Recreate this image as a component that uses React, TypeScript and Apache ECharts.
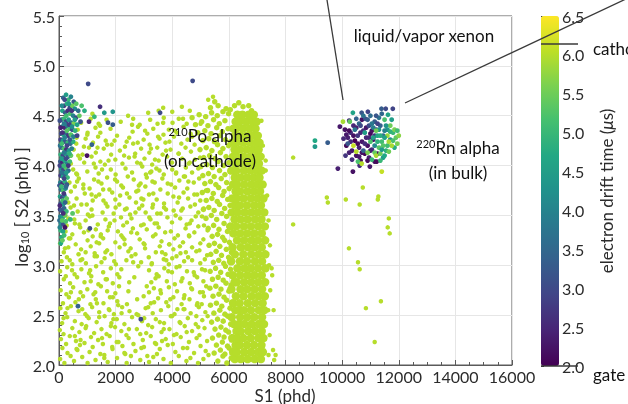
import React, { useEffect, useRef } from "react";
import * as echarts from "echarts";

// Axis ranges: [min, max, step]
const S1_AXIS = [0, 16000, 2000];
const LOG_S2_AXIS = [2.0, 5.5, 0.5];
const DRIFT_AXIS = [2.0, 6.5, 0.5];

// Drift times of the electrode references (µs)
const CATHODE_DRIFT = 6.14;
const GATE_DRIFT = 2.0;
// 210Po events sit on the cathode
const PO_DRIFT = 6.0;

// viridis
const VIRIDIS = [
  "#440154", "#482475", "#414487", "#355f8d", "#2a788e", "#21918c",
  "#22a884", "#44bf70", "#7ad151", "#bddf26", "#fde725",
];

// 210Po alpha, sparse tail at low S1: [S1, log10 S2]
const PO_SPARSE: [number, number][] = [
  [40,2.06],[190,2.02],[410,2.09],[530,2.04],[820,2.08],[1010,2.02],[1290,2.05],[1600,2.1],[1720,2.03],[2050,2.07],[2390,2.02],[2540,2.09],[2870,2.05],[3180,2.03],[3330,2.08],[3690,2.06],[3950,2.02],[4230,2.09],[4500,2.04],[4640,2.07],[4910,2.02],[5100,2.06],[5280,2.1],
  [120,2.17],[300,2.12],[650,2.15],[740,2.2],[1080,2.13],[1190,2.18],[1460,2.11],[1890,2.16],[2240,2.19],[2310,2.12],[2700,2.14],[3000,2.18],[3460,2.11],[3560,2.16],[3840,2.2],[4110,2.13],[4380,2.17],[4770,2.12],[5000,2.19],[5180,2.14],
  [70,2.26],[250,2.21],[380,2.29],[600,2.24],[900,2.22],[1130,2.28],[1380,2.25],[1550,2.21],[1790,2.29],[2100,2.23],[2460,2.27],[2630,2.21],[2960,2.25],[3240,2.29],[3390,2.22],[3770,2.26],[4020,2.21],[4300,2.28],[4590,2.23],[4860,2.27],[5230,2.24],
  [30,2.35],[160,2.31],[470,2.37],[720,2.33],[960,2.39],[1240,2.32],[1500,2.36],[1680,2.31],[1980,2.38],[2200,2.34],[2380,2.3],[2750,2.36],[3080,2.32],[3290,2.38],[3620,2.33],[3900,2.36],[4150,2.31],[4440,2.39],[4700,2.34],[4960,2.3],[5140,2.37],
  [110,2.42],[290,2.48],[560,2.44],[800,2.41],[1050,2.47],[1330,2.43],[1610,2.49],[1850,2.42],[2040,2.46],[2310,2.41],[2580,2.48],[2930,2.44],[3150,2.4],[3420,2.46],[3710,2.42],[3990,2.49],[4260,2.43],[4550,2.47],[4830,2.41],[5060,2.45],[5250,2.49],
  [50,2.57],[230,2.52],[420,2.59],[690,2.54],[930,2.51],[1170,2.58],[1420,2.53],[1760,2.56],[1940,2.51],[2230,2.58],[2490,2.54],[2800,2.5],[3060,2.57],[3310,2.52],[3600,2.55],[3860,2.59],[4080,2.51],[4400,2.56],[4650,2.52],[4940,2.58],[5170,2.53],
  [140,2.62],[350,2.68],[580,2.63],[850,2.69],[1110,2.61],[1300,2.66],[1570,2.62],[1800,2.68],[2060,2.64],[2400,2.61],[2990,2.69],[3240,2.62],[3500,2.67],[3790,2.63],[4040,2.68],[4330,2.61],[4610,2.66],[4890,2.62],[5120,2.69],
  [60,2.75],[260,2.71],[500,2.78],[760,2.73],[1000,2.76],[1220,2.71],[1480,2.79],[1700,2.74],[1990,2.72],[2450,2.74],[3100,2.79],[3350,2.77],[3600,2.72],[3880,2.78],[4170,2.74],[4430,2.7],[4700,2.76],[4980,2.73],[5200,2.79],
  [170,2.86],[390,2.82],[640,2.88],[900,2.83],[1140,2.89],[1390,2.81],[1650,2.86],[1900,2.82],[2130,2.88],[3260,2.83],[3520,2.89],[3810,2.84],[4090,2.81],[4360,2.87],[4620,2.82],[4880,2.88],[5100,2.84],
  [40,2.94],[290,2.98],[550,2.91],[790,2.96],[1060,2.92],[1310,2.99],[1560,2.93],[1830,2.97],[2060,2.91],[2800,2.99],[3180,2.95],[3450,2.91],[3720,2.97],[3990,2.93],[4260,2.99],[4520,2.94],[4790,2.9],[5050,2.96],
  [90,3.04],[280,3.08],[470,3.01],[820,3.06],[950,3.02],[1340,3.09],[1500,3.03],[1610,3.07],[2010,3.01],[2380,3.05],[2560,3.09],[2900,3.03],[3170,3.08],[3280,3.02],[3700,3.06],[3880,3.01],[4150,3.09],[4420,3.04],[4560,3.08],[4990,3.02],[5150,3.06],
  [170,3.13],[330,3.18],[690,3.11],[780,3.16],[1120,3.19],[1260,3.12],[1700,3.15],[1850,3.11],[2140,3.18],[2450,3.14],[2700,3.11],[3040,3.17],[3420,3.13],[3560,3.19],[3760,3.11],[4040,3.16],[4290,3.12],[4700,3.18],[4850,3.14],[5230,3.1],
  [40,3.22],[400,3.27],[590,3.21],[1010,3.25],[1190,3.29],[1420,3.22],[1560,3.27],[1990,3.23],[2250,3.28],[2320,3.21],[2850,3.26],[2990,3.22],[3320,3.29],[3620,3.24],[3900,3.21],[4080,3.27],[4380,3.23],[4600,3.29],[4990,3.22],[5100,3.26],
  [230,3.34],[470,3.31],[750,3.38],[880,3.33],[1300,3.36],[1480,3.31],[1760,3.39],[2080,3.34],[2200,3.3],[2610,3.37],[2760,3.32],[3100,3.36],[3410,3.31],[3520,3.38],[3950,3.34],[4200,3.3],[4470,3.37],[4780,3.33],[4920,3.39],[5250,3.35],
  [330,3.47],[560,3.42],[940,3.45],[1090,3.49],[1370,3.41],[1640,3.46],[1800,3.42],[2190,3.48],[2400,3.43],[2560,3.47],[2990,3.41],[3230,3.46],[3380,3.42],[3830,3.48],[3990,3.43],[4280,3.47],[4510,3.41],[4680,3.45],[5050,3.49],
  [210,3.52],[410,3.58],[660,3.54],[1020,3.51],[1150,3.56],[1540,3.53],[1710,3.59],[1930,3.52],[2330,3.56],[2510,3.51],[2830,3.57],[3060,3.53],[3300,3.58],[3590,3.52],[3780,3.56],[4120,3.5],[4320,3.55],[4640,3.59],[4920,3.53],[5110,3.57],
  [330,3.63],[620,3.67],[790,3.61],[1190,3.65],[1300,3.69],[1650,3.62],[1990,3.66],[2130,3.61],[2490,3.68],[2720,3.63],[2910,3.67],[3320,3.61],[3450,3.66],[3710,3.62],[4040,3.69],[4190,3.63],[4560,3.67],[4800,3.61],[4990,3.65],
  [420,3.74],[560,3.79],[910,3.72],[1080,3.77],[1420,3.71],[1560,3.76],[1880,3.73],[2260,3.78],[2400,3.72],[2800,3.75],[3050,3.79],[3180,3.71],[3580,3.76],[3840,3.72],[4100,3.78],[4400,3.73],[4530,3.77],[4880,3.71],
  [370,3.83],[700,3.87],[860,3.81],[1240,3.86],[1500,3.82],[1700,3.88],[2050,3.84],[2200,3.8],[2640,3.86],[2880,3.82],[3100,3.88],[3380,3.83],[3650,3.87],[3960,3.81],[4250,3.85],[4410,3.89],[4760,3.83],[4950,3.87],
  [500,3.96],[640,3.91],[1000,3.94],[1290,3.98],[1400,3.92],[1830,3.96],[2000,3.91],[2350,3.97],[2580,3.93],[2940,3.99],[3220,3.93],[3440,3.97],[3700,3.91],[4000,3.96],[4130,3.92],[4480,3.98],[4700,3.93],[4920,3.97],
  [420,4.02],[740,4.07],[890,4.03],[1150,4.09],[1460,4.04],[1620,4.01],[1990,4.06],[2240,4.02],[2470,4.08],[2760,4.03],[3020,4.07],[3290,4.01],[3520,4.05],[3820,4.09],[3990,4.03],[4350,4.07],[4580,4.02],[4800,4.06],
  [520,4.16],[830,4.11],[1060,4.18],[1300,4.13],[1580,4.17],[1840,4.11],[2150,4.15],[2330,4.19],[2690,4.12],[2900,4.17],[3190,4.13],[3470,4.18],[3660,4.11],[3940,4.16],[4220,4.12],[4470,4.18],[4660,4.14],
  [610,4.22],[940,4.27],[1200,4.23],[1380,4.29],[1700,4.21],[1960,4.25],[2480,4.28],[2620,4.22],[2990,4.26],[3200,4.21],[3550,4.27],[3760,4.23],[4060,4.29],[4320,4.22],[4540,4.26],[4790,4.21],
  [660,4.36],[1000,4.31],[1290,4.38],[1460,4.33],[1820,4.37],[2600,4.34],[2790,4.39],[3120,4.32],[3330,4.37],[3690,4.31],[3880,4.36],[4160,4.33],[4400,4.39],[4650,4.32],
  [780,4.43],[1120,4.47],[1400,4.42],[1680,4.46],[2850,4.41],[3220,4.46],[3480,4.42],[3700,4.48],[4010,4.43],[4230,4.47],[4510,4.42],
  [1180,4.52],[2440,4.5],[3150,4.53],[3520,4.55],[3680,4.58],[4000,4.54],[4340,4.59],[4620,4.55],[5270,4.66],[5440,4.69],
];

// 210Po alpha, further low-S1 events filling the tail: [S1, log10 S2]
const PO_SPARSE_MORE: [number, number][] = [
  [2870,2.31],[610,3.92],[4410,2.67],[1750,4.05],[3330,3.72],[240,2.89],[4980,4.08],[1520,2.27],[3790,3.05],[980,3.61],
  [2210,2.52],[4620,3.42],[350,3.27],[2670,4.09],[1280,2.73],[4090,4.35],[3560,2.43],[760,3.05],[1960,3.45],[5040,2.61],
  [2430,3.89],[160,2.47],[3120,2.09],[4270,3.19],[1390,3.84],[2760,2.66],[620,2.16],[3900,4.24],[1830,2.39],[4760,2.93],
  [2050,4.3],[3410,2.87],[880,4.19],[4530,2.17],[2550,3.33],[1100,2.95],[3680,4.43],[420,2.73],[2980,3.66],[4180,2.56],
  [1640,3.13],[5190,3.75],[2340,2.11],[3250,4.17],[720,3.41],[4450,3.89],[1900,2.68],[3010,2.47],[1180,3.5],[4850,2.49],
  [2620,3.03],[530,3.6],[3860,2.94],[1450,4.4],[4320,2.84],[2160,3.7],[3460,3.42],[820,2.56],[4700,4.29],[2780,4.23],
  [1330,3.23],[3640,2.24],[210,3.17],[4050,3.55],[1690,2.86],[2300,4.1],[3070,3.91],[940,2.37],[4590,3.3],[2480,2.83],
  [3750,3.33],[1570,3.65],[5120,3.4],[2700,3.53],[460,2.95],[3270,3.01],[1860,4.21],[4380,4.47],[1040,3.35],[2910,2.17],
  [3550,3.95],[620,4.28],[4960,3.15],[2090,2.6],[3930,2.66],[1230,4.02],[2390,3.57],[4140,3.93],[760,2.25],[3190,3.48],
  [1720,3.35],[4510,2.33],[2580,4.41],[3360,2.63],[1950,3.04],[4780,3.71],[300,2.57],[2820,3.8],[1420,2.48],[3710,3.58],
  [5000,4.42],[2200,2.96],[860,3.77],[4230,4.12],[3040,4.35],[1600,2.07],[3890,3.21],[2470,2.36],[680,4.1],[4670,2.77],
  [1980,3.86],[3500,4.29],[1150,3.71],[2740,2.51],[4370,3.57],[3180,2.73],[540,3.46],[2040,2.23],[4920,2.38],[1520,3.96],
  [3640,3.13],[2310,3.26],[4060,2.3],[1010,4.33],[2880,4.02],[3430,2.21],[1780,2.55],[4620,4.03],[2660,2.88],[380,3.05],
  [3950,2.49],[1260,3.09],[2180,4.44],[4480,3.13],[3300,3.84],[1880,2.18],[3020,3.21],[700,2.66],[4830,3.49],[2530,3.17],
  [3780,4.15],[1340,2.62],[4150,2.98],[2000,3.58],[5080,2.73],[2900,3.4],[940,3.13],[3580,2.75],[1650,4.25],[4290,2.42],
  [2390,4.24],[3840,3.82],[560,2.29],[4700,3.05],[2730,3.74],[1120,2.84],[3390,4.06],[2120,2.79],[4570,3.84],[1470,3.29],
  [3150,2.58],[270,3.4],[4000,3.07],[2620,4.47],[1780,3.76],[4870,2.6],[3470,3.52],[990,2.49],[2270,3.4],[4240,3.68],
  [1360,4.18],[3700,2.36],[2940,3.6],[640,3.84],[4430,2.56],[1920,2.46],[3260,3.94],[5160,2.95],
];

// 210Po alpha, shoulder of the main population: [S1, log10 S2]
const PO_SHOULDER: [number, number][] = [
  [5610,2.04],[5790,2.09],[5930,2.02],[6080,2.07],[5480,2.12],[5700,2.15],[5860,2.11],[6010,2.17],[5560,2.2],[5770,2.23],
  [5950,2.19],[6100,2.25],[5420,2.27],[5640,2.3],[5830,2.28],[5990,2.33],[5510,2.36],[5720,2.38],[5890,2.35],[6060,2.41],
  [5390,2.43],[5600,2.46],[5800,2.44],[5960,2.49],[5470,2.52],[5680,2.55],[5860,2.51],[6040,2.57],[5350,2.6],[5560,2.62],
  [5750,2.59],[5920,2.65],[6110,2.63],[5440,2.69],[5650,2.71],[5830,2.68],[6000,2.74],[5330,2.77],[5540,2.79],[5720,2.76],
  [5900,2.82],[6080,2.8],[5420,2.86],[5620,2.88],[5800,2.85],[5970,2.91],[5340,2.94],[5530,2.97],[5710,2.93],[5880,2.99],
  [6060,2.96],[5450,3.03],[5640,3.05],[5820,3.02],[5990,3.08],[5360,3.11],[5550,3.14],[5740,3.1],[5910,3.16],[6090,3.13],
  [5300,3.2],[5490,3.22],[5680,3.19],[5850,3.25],[6020,3.23],[5410,3.29],[5600,3.31],[5780,3.28],[5950,3.34],[5270,3.37],
  [5460,3.4],[5650,3.36],[5830,3.42],[6000,3.39],
  [5190,3.47],[5380,3.5],[5570,3.46],[5750,3.52],[5920,3.49],[5100,3.56],[5290,3.58],[5480,3.55],[5670,3.61],[5850,3.57],
  [6040,3.6],[5200,3.65],[5400,3.67],[5590,3.64],[5780,3.7],[5960,3.66],[5060,3.73],[5250,3.75],[5450,3.72],[5640,3.78],
  [5830,3.74],[6010,3.77],[5150,3.82],[5350,3.84],[5540,3.81],[5730,3.87],[5920,3.83],[5080,3.9],[5280,3.92],[5480,3.89],
  [5670,3.95],[5860,3.91],[6040,3.94],[5010,3.99],[5220,4.01],[5420,3.98],[5620,4.04],[5810,4.0],[6000,4.03],[5110,4.08],
  [5320,4.1],[5510,4.07],[5700,4.13],[5900,4.09],[4980,4.16],[5200,4.18],[5400,4.15],[5600,4.21],[5790,4.17],[5990,4.2],
  [5080,4.25],[5290,4.27],[5490,4.24],[5680,4.3],[5880,4.26],[4900,4.33],[5150,4.35],[5370,4.32],[5570,4.38],[5770,4.34],
  [5970,4.37],[4820,4.41],[5040,4.44],[5260,4.4],[5460,4.46],[5660,4.42],[5860,4.45],[4700,4.48],[4950,4.51],[5180,4.49],
  [5390,4.53],[5590,4.5],[5790,4.54],[5990,4.52],[5350,4.58],[5620,4.6],[5900,4.57],[6200,4.6],[6500,4.59],[5500,4.64],
  [6350,4.63],[6700,4.6],[6050,4.56],[6800,4.55],
];

// 210Po alpha, saturated core: [log10 S2, S1 values]
const PO_CORE_ROWS: [number, number[]][] = [
  [2.06,[6210,6420,6660,6910,7130]],
  [2.13,[6150,6280,6540,6790,7040,7200]],
  [2.20,[6240,6390,6640,6890,7150]],
  [2.27,[6120,6300,6510,6770,7040,7220]],
  [2.34,[6270,6410,6680,6920,7160]],
  [2.41,[6180,6350,6550,6800,7050,7240]],
  [2.48,[6100,6400,6650,6900,7170]],
  [2.55,[6230,6380,6530,6780,7060,7250]],
  [2.62,[6150,6380,6670,6930,7190]],
  [2.69,[6250,6520,6800,7050,7270]],
  [2.76,[6090,6410,6650,6910,7170]],
  [2.83,[6200,6280,6540,6790,7040,7280]],
  [2.90,[6140,6400,6660,6900,7160]],
  [2.97,[6300,6550,6780,7030,7290]],
  [3.04,[6080,6390,6640,6920,7170]],
  [3.11,[6210,6510,6790,7050,7290]],
  [3.18,[6130,6420,6670,6910,7160]],
  [3.25,[6290,6540,6800,7030,7280]],
  [3.32,[6160,6400,6650,6900,7160]],
  [3.39,[6060,6260,6530,6780,7040,7270]],
  [3.46,[6200,6410,6660,6920,7150]],
  [3.53,[6100,6300,6550,6790,7020,7250]],
  [3.60,[6210,6390,6640,6900,7130]],
  [3.67,[6120,6270,6520,6780,7010,7220]],
  [3.74,[6240,6400,6660,6890,7100]],
  [3.81,[6150,6290,6540,6790,7000,7190]],
  [3.88,[6210,6410,6650,6880,7080]],
  [3.95,[6090,6260,6530,6770,6990,7160]],
  [4.02,[6230,6400,6640,6870,7060]],
  [4.09,[6150,6280,6520,6760,6980,7120]],
  [4.16,[6200,6390,6630,6860,7050]],
  [4.23,[6110,6270,6510,6750,6960,7080]],
  [4.30,[6220,6400,6620,6840,7020]],
  [4.37,[6160,6250,6490,6730,6940]],
  [4.44,[6240,6380,6610,6830,6980]],
  [4.51,[6300,6480,6700,6880]],
];

// Stray cathode-like events beyond the main population: [S1, log10 S2]
const PO_STRAY: [number, number][] = [
  [7400,2.1],[7440,2.3],[7390,2.55],[7460,2.75],[7420,3.0],[7450,3.2],[7400,3.45],[7350,3.7],
  [7300,3.95],[7200,4.2],[7150,4.45],[7560,2.15],[7530,2.9],[7600,2.05],[7300,4.05],[7650,2.1],
  [7580,2.55],[7510,2.97],[8270,4.08],[8270,3.41],[9495,3.63],[9460,3.68],[10130,3.66],[10620,3.61],
  [11260,3.66],[11650,3.47],[11610,3.38],[11680,3.32],[10240,3.17],[10560,3.03],[10620,2.96],
  [11370,2.64],[10840,2.57],[11150,2.23],[10730,3.78],[11280,3.69],
];

// Events near the gate: [S1, log10 S2, drift time µs]
const GATE_EVENTS: [number, number, number][] = [
  [150,4.68,3.5],[250,4.71,4.5],[330,4.66,5.0],[420,4.69,4.0],[520,4.64,3.2],[610,4.62,5.3],[180,4.6,2.8],
  [280,4.62,4.8],[380,4.58,3.0],[470,4.6,5.5],[560,4.57,4.2],[680,4.55,3.6],[120,4.55,4.6],[220,4.53,3.3],
  [310,4.55,2.6],[400,4.52,5.2],[500,4.5,4.0],[600,4.48,3.0],[720,4.5,5.4],
  [90,4.46,3.4],[170,4.47,5.0],[250,4.44,2.9],[340,4.46,4.4],[430,4.43,3.7],[520,4.42,5.6],[640,4.41,4.6],
  [760,4.44,3.2],[110,4.39,4.2],[200,4.38,2.5],[290,4.4,3.8],[380,4.37,5.1],[470,4.36,3.1],[570,4.35,4.9],
  [80,4.32,3.0],[160,4.31,4.7],[240,4.33,3.5],[330,4.3,2.7],[420,4.31,5.3],[510,4.29,4.0],[640,4.3,2.9],
  [60,4.26,2.8],[140,4.25,4.4],[220,4.24,3.2],[310,4.23,5.0],[400,4.22,3.6],[500,4.24,4.8],[90,4.18,3.4],
  [170,4.17,5.2],[260,4.16,2.6],[350,4.15,4.3],[450,4.17,3.9],[60,4.11,4.9],[140,4.1,3.0],[230,4.12,4.6],
  [320,4.09,3.5],[420,4.1,5.4],
  [50,4.04,3.3],[120,4.03,2.5],[200,4.05,4.7],[290,4.02,3.9],[380,4.04,5.1],[80,3.97,4.2],[160,3.96,3.0],
  [240,3.98,5.3],[330,3.95,3.6],[60,3.9,2.8],[140,3.89,4.5],[220,3.91,3.4],[300,3.88,5.0],
  [50,3.83,4.0],[120,3.82,2.6],[200,3.84,4.8],[280,3.81,3.2],[70,3.76,3.6],[150,3.75,5.2],[230,3.77,4.1],
  [40,3.69,4.6],[110,3.68,2.9],[190,3.7,3.9],[270,3.67,5.4],[60,3.62,3.3],[140,3.61,4.4],
  [40,3.56,2.7],[100,3.55,4.9],[180,3.57,3.5],[260,3.54,5.0],[50,3.49,3.9],[130,3.48,4.6],[220,3.5,5.5],
  [70,3.42,4.3],[150,3.41,3.1],[240,3.44,5.2],[400,3.46,5.0],[480,3.52,5.3],[60,3.35,5.0],[140,3.34,4.6],
  [210,3.38,2.2],[90,3.28,4.8],
  [30,4.45,3.1],[60,4.38,2.4],[40,4.2,3.7],[30,4.0,2.9],[20,3.8,3.2],[30,3.6,2.5],[20,3.45,3.6],
  [100,4.6,4.1],[200,4.66,3.0],[350,4.62,4.4],[450,4.55,2.7],[260,4.5,5.1],[180,4.42,3.9],[360,4.41,2.8],
  [560,4.46,4.5],[120,4.33,2.6],[280,4.35,5.3],[460,4.39,4.2],[200,4.28,4.0],[380,4.26,3.3],[100,4.22,5.1],
  [280,4.2,2.9],[180,4.13,3.8],[370,4.12,4.9],[100,4.07,4.5],[250,4.07,3.0],[170,4.0,5.0],[330,4.0,2.7],
  [100,3.93,3.7],[260,3.93,4.4],[180,3.87,2.9],[90,3.79,5.0],[250,3.79,3.5],[170,3.72,2.7],[130,3.65,5.1],
  [220,3.63,3.4],[80,3.55,3.2],[150,3.52,2.6],[110,3.45,5.3],[30,3.38,4.0],[180,3.3,5.1],[60,3.22,4.7],
  [120,3.25,5.4],
  [1030,4.82,3.0],[1450,4.59,2.6],[1600,4.53,4.4],[1900,4.54,4.3],[1060,4.44,2.5],[1730,4.43,3.1],
  [1250,4.49,5.0],[1900,4.41,3.3],[990,4.1,2.2],[3570,4.53,3.0],[1160,4.21,3.4],[1090,3.37,3.0],
  [2890,2.46,3.0],[670,2.59,3.4],[4720,4.85,3.0],[900,4.55,4.8],[800,4.6,5.2],
];

// 220Rn alpha in the bulk: [S1, log10 S2, drift time µs]
const RN_EVENTS: [number, number, number][] = [
  [10100,4.36,2.2],[10200,4.28,2.4],[10150,4.2,2.1],[10300,4.33,2.6],[10350,4.15,2.3],[10450,4.25,2.0],
  [10400,4.4,2.5],[10500,4.1,2.2],[10550,4.3,2.7],[10600,4.18,2.4],[10650,4.05,2.1],[10700,4.24,2.3],
  [10750,4.35,2.6],[10800,4.12,2.0],[10850,4.28,2.5],[10900,4.2,2.2],[10950,4.08,2.4],[11000,4.32,2.1],
  [11050,4.16,2.6],[11100,4.26,2.3],[11150,4.04,2.2],[11200,4.36,2.5],[10050,4.27,2.5],[10250,4.45,2.6],
  [10700,4.46,2.2],[11250,4.12,2.1],[9920,4.39,2.3],[9850,3.97,2.4],[10380,3.94,2.2],[10980,3.99,2.3],
  [11220,4.04,2.1],[10620,4.0,2.6],[10120,4.1,2.7],
  [10150,4.31,2.3],[10250,4.35,2.1],[10300,4.24,2.5],[10400,4.3,2.2],[10500,4.38,2.4],[10550,4.22,2.1],
  [10650,4.33,2.5],[10700,4.13,2.2],[10800,4.22,2.6],[10850,4.38,2.3],[10950,4.28,2.5],[11000,4.15,2.4],
  [11050,4.35,2.2],[11150,4.3,2.7],[10350,4.06,2.6],[10600,4.09,2.3],[10900,4.05,2.1],[10250,4.13,2.4],
  [10380,4.53,4.6],[10690,4.53,3.2],[10910,4.54,2.9],[11390,4.57,3.3],[11540,4.57,3.0],[11790,4.57,2.9],
  [10600,4.42,3.5],[10820,4.47,3.1],[11000,4.5,3.6],[11150,4.44,3.3],[11300,4.48,3.7],[10450,4.36,3.8],
  [10950,4.4,3.0],[11350,4.4,3.4],[10200,4.22,3.2],[11450,4.3,3.6],[10750,4.15,3.4],[11100,4.38,3.9],
  [10500,4.47,3.4],[10650,4.4,3.0],[10900,4.46,3.3],[11050,4.42,3.8],[11200,4.5,3.2],[11400,4.52,3.5],
  [10750,4.5,3.7],[11250,4.42,2.9],
  [11620,4.51,4.6],[11500,4.46,5.2],[11700,4.4,5.5],[11800,4.33,5.0],[11900,4.28,5.4],[11950,4.22,5.6],
  [11850,4.18,4.8],[11600,4.36,4.4],[11400,4.24,5.1],[11550,4.15,4.9],[11300,4.18,5.3],[11450,4.08,4.5],
  [11700,4.26,4.2],[11250,4.3,4.7],[11350,4.12,5.5],[11150,4.2,4.1],[11050,4.06,5.0],[11600,4.3,5.8],
  [11750,4.2,5.9],[12000,4.3,5.7],[11500,4.35,4.0],[10030,4.44,5.9],[10270,4.44,5.4],[10560,4.04,5.2],
  [10900,4.13,5.6],[10800,4.33,4.5],[11300,4.36,4.3],[11000,4.24,5.2],
  [11350,4.3,4.8],[11450,4.2,5.3],[11500,4.28,4.6],[11600,4.2,5.1],[11650,4.14,5.5],[11700,4.34,4.9],
  [11400,4.16,4.4],[11550,4.4,4.3],[11800,4.25,5.2],[11250,4.24,4.9],[11150,4.13,5.4],[11350,4.05,5.0],
  [11500,4.1,4.7],[11850,4.36,5.6],[11200,4.35,5.5],[11100,4.28,4.6],[11750,4.46,4.5],[11650,4.24,5.9],
  [11950,4.35,5.1],
  [10690,4.02,6.0],[11400,3.94,6.1],[10500,4.14,6.0],[11200,4.1,5.9],[10400,4.2,6.1],
  [9040,4.25,4.7],[9040,4.19,4.4],[9490,4.23,3.3],
];

const FONT = "Lato, 'DejaVu Sans', sans-serif";
const INK = "#2b2b2b";
const FRAME = "#5a5a5a";

const withDrift = (pts: [number, number][], t: number) => pts.map(([x, y]) => [x, y, t]);
const fromRows = (rows: [number, number[]][]) =>
  rows.flatMap(([y, xs]) => xs.map((x) => [x, y, PO_DRIFT]));

function scatter(name: string, data: number[][], size: number) {
  return {
    name,
    type: "scatter",
    data,
    symbolSize: size,
    itemStyle: { opacity: 1 },
    silent: true,
  };
}

export default function App() {
  const ref = useRef<HTMLDivElement>(null);

  useEffect(() => {
    const chart = echarts.init(ref.current!, null, { renderer: "svg" });

    const tickLabel = { color: INK, fontFamily: FONT, fontSize: 16 };

    chart.setOption({
      animation: false,
      grid: [
        { left: 59, top: 16, width: 453, height: 349, show: true, borderColor: FRAME, borderWidth: 1 },
        { left: 541, top: 16, width: 18, height: 350, show: false },
      ],
      xAxis: [
        {
          type: "value",
          gridIndex: 0,
          min: S1_AXIS[0],
          max: S1_AXIS[1],
          interval: S1_AXIS[2],
          axisLine: { show: true, lineStyle: { color: FRAME } },
          axisTick: { show: true, inside: true, length: 5, lineStyle: { color: FRAME } },
          minorTick: { show: true, splitNumber: 4, length: 3, lineStyle: { color: FRAME } },
          splitLine: { show: true, lineStyle: { color: "#e6e6e6" } },
          axisLabel: { ...tickLabel, margin: 3, formatter: (v: number) => String(v) },
        },
        { type: "value", gridIndex: 1, show: false, min: 0, max: 1 },
      ],
      yAxis: [
        {
          type: "value",
          gridIndex: 0,
          min: LOG_S2_AXIS[0],
          max: LOG_S2_AXIS[1],
          interval: LOG_S2_AXIS[2],
          axisLine: { show: true, lineStyle: { color: FRAME } },
          axisTick: { show: true, inside: true, length: 5, lineStyle: { color: FRAME } },
          minorTick: { show: true, splitNumber: 5, length: 3, lineStyle: { color: FRAME } },
          splitLine: { show: true, lineStyle: { color: "#e6e6e6" } },
          axisLabel: { ...tickLabel, margin: 4, formatter: (v: number) => v.toFixed(1) },
        },
        {
          type: "value",
          gridIndex: 1,
          position: "right",
          min: DRIFT_AXIS[0],
          max: DRIFT_AXIS[1],
          interval: DRIFT_AXIS[2],
          axisLine: { show: false },
          axisTick: { show: true, length: 3, lineStyle: { color: INK } },
          splitLine: { show: false },
          axisLabel: { ...tickLabel, margin: 3, formatter: (v: number) => v.toFixed(1) },
        },
      ],
      visualMap: {
        type: "continuous",
        min: DRIFT_AXIS[0],
        max: DRIFT_AXIS[1],
        dimension: 2,
        seriesIndex: [0, 1, 2, 3, 4, 5, 6],
        inRange: { color: VIRIDIS },
        show: true,
        calculable: false,
        hoverLink: false,
        left: 541,
        top: 16,
        itemWidth: 18,
        itemHeight: 350,
        padding: 0,
        textGap: 0,
      },
      series: [
        scatter("210Po sparse", withDrift(PO_SPARSE, PO_DRIFT), 4.5),
        scatter("210Po sparse (more)", withDrift(PO_SPARSE_MORE, PO_DRIFT), 4.5),
        scatter("210Po shoulder", withDrift(PO_SHOULDER, PO_DRIFT), 5.5),
        scatter("210Po core", fromRows(PO_CORE_ROWS), 8.5),
        scatter("210Po stray", withDrift(PO_STRAY, PO_DRIFT), 4.5),
        scatter("gate", GATE_EVENTS, 4.8),
        scatter("220Rn", RN_EVENTS, 4.8),
      ],
    });

    const cathodeY = chart.convertToPixel({ yAxisIndex: 1 }, CATHODE_DRIFT) as number;
    const gateY = chart.convertToPixel({ yAxisIndex: 1 }, GATE_DRIFT) as number;
    const barLeft = chart.convertToPixel({ xAxisIndex: 1 }, 0) as number;

    const text = (x: number, y: number, t: string, extra: any = {}) => ({
      type: "text",
      x,
      y,
      z: 100,
      style: {
        text: t,
        fill: "#111",
        fontFamily: FONT,
        fontSize: 17,
        align: "center",
        verticalAlign: "middle",
        rich: {
          sup: { fontSize: 11, fontFamily: FONT, fill: "#111", padding: [0, 0, 8, 0] },
          sub: { fontSize: 11, fontFamily: FONT, fill: INK, padding: [7, 0, 0, 0] },
          it: { fontSize: 17, fontFamily: FONT, fill: INK, fontStyle: "italic" },
          base: { fontSize: 17, fontFamily: FONT, fill: INK },
          lab: { fontSize: 17, fontFamily: FONT, fill: "#111" },
        },
        ...extra,
      },
    });
    const line = (x1: number, y1: number, x2: number, y2: number) => ({
      type: "line",
      z: 100,
      shape: { x1, y1, x2, y2 },
      style: { stroke: "#3a3a3a", lineWidth: 1.3 },
    });

    chart.setOption({
      graphic: [
        text(424, 35, "liquid/vapor xenon"),
        text(210, 135, "{sup|210}{lab|Po alpha}"),
        text(210, 160, "(on cathode)"),
        text(458, 147, "{sup|220}{lab|Rn alpha}"),
        text(458, 172, "(in bulk)"),
        line(327, 0, 343, 100),
        line(405, 103, 628, -2),
        line(barLeft, cathodeY, 578, cathodeY),
        line(barLeft, gateY, 578, gateY),
        text(593, cathodeY + 4, "cathode", { align: "left" }),
        text(593, gateY + 8, "gate", { align: "left" }),
        text(285, 395, "S1 (phd)", { fill: INK }),
        {
          ...text(21, 207, "{base|log}{sub|10}{base| [ S2 (phd) ]}"),
          rotation: Math.PI / 2,
        },
        {
          ...text(606, 191, "{base|electron drift time (}{it|μ}{base|s)}"),
          rotation: Math.PI / 2,
        },
      ],
    });

    return () => chart.dispose();
  }, []);

  return (
    <div
      ref={ref}
      style={{ position: "fixed", left: 0, top: 0, width: 628, height: 404 }}
    />
  );
}
